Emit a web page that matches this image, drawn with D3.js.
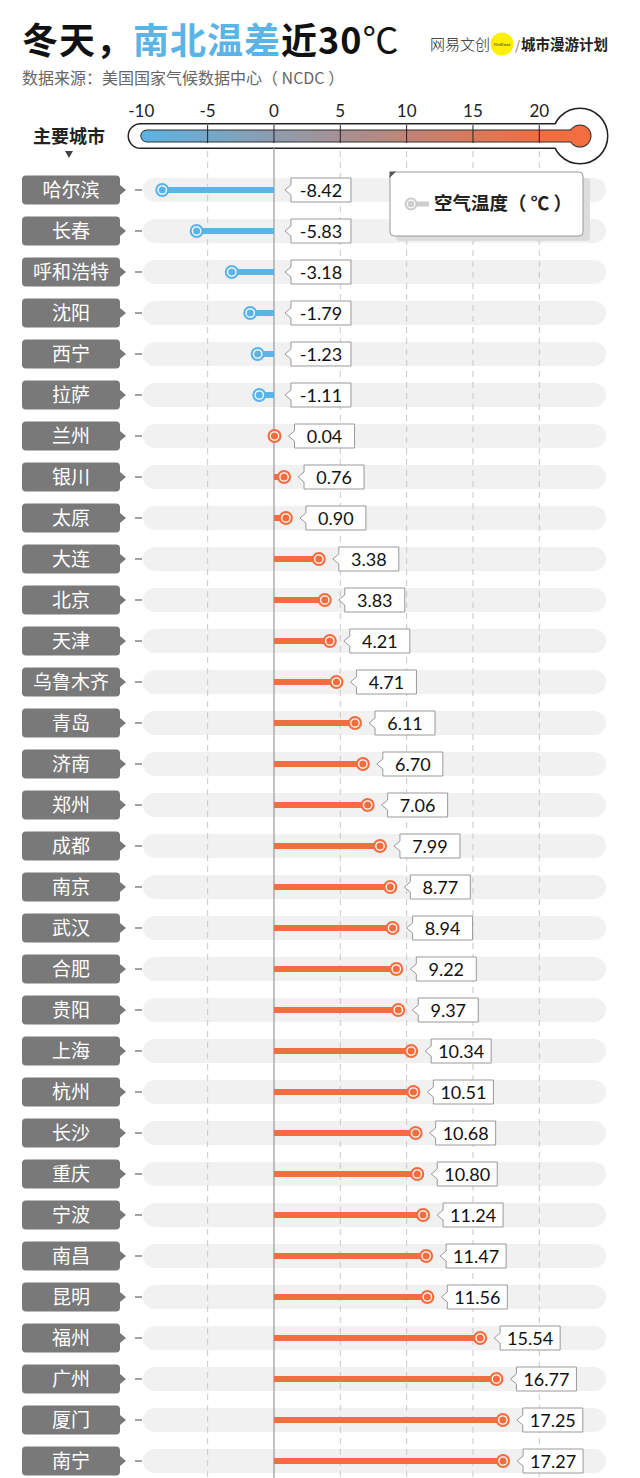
<!DOCTYPE html>
<html><head><meta charset="utf-8">
<script src="https://cdn.jsdelivr.net/npm/d3@7"></script>
<style>
html,body{margin:0;padding:0;background:#fff;}
svg{display:block;font-family:"Noto Sans CJK SC","Noto Sans",sans-serif;}
</style></head>
<body>
<script>
const cities = ["哈尔滨","长春","呼和浩特","沈阳","西宁","拉萨","兰州","银川","太原","大连","北京","天津","乌鲁木齐","青岛","济南","郑州","成都","南京","武汉","合肥","贵阳","上海","杭州","长沙","重庆","宁波","南昌","昆明","福州","广州","厦门","南宁"];
const temps = [-8.42,-5.83,-3.18,-1.79,-1.23,-1.11,0.04,0.76,0.90,3.38,3.83,4.21,4.71,6.11,6.70,7.06,7.99,8.77,8.94,9.22,9.37,10.34,10.51,10.68,10.80,11.24,11.47,11.56,15.54,16.77,17.25,17.27];
const tickValues = [-10,-5,0,5,10,15,20];
const tickLabels = ["-10","-5","0","5","10","15","20"];
const titleParts = ["冬天，","南北温差","近30","℃"];
const subtitle = "数据来源：美国国家气候数据中心（ NCDC ）";
const legendLabel = "空气温度（ ℃ ）";
const axisTitle = "主要城市";

const W = 640, H = 1478;
const BLUE = "#5ab4e6", ORANGE = "#f26d40";
const svg = d3.select("body").append("svg").attr("width", W).attr("height", H);

const x = d3.scaleLinear().domain([-10, 20]).range([141.3, 539.3]);
const y = d3.scaleBand().domain(cities).range([169.5, 169.5 + cities.length * 41]);
const cy = c => y(c) + y.bandwidth() / 2;
const data = cities.map((c, i) => ({city: c, v: temps[i]}));

// ---- Title ----
const t = svg.append("text").attr("x", 22).attr("y", 54)
  .attr("font-size", 36).attr("font-weight", 700).attr("letter-spacing", 1);
t.append("tspan").attr("fill", "#111").text(titleParts[0]);
t.append("tspan").attr("fill", BLUE).text(titleParts[1]);
t.append("tspan").attr("fill", "#111").text(titleParts[2]);
t.append("tspan").attr("fill", "#111").attr("font-weight", 400).text(titleParts[3]);
svg.append("text").attr("x", 22).attr("y", 84).attr("font-size", 16).attr("fill", "#666").text(subtitle);

// logo
svg.append("circle").attr("cx", 502).attr("cy", 44).attr("r", 11.5).attr("fill", "#fff000");
svg.append("text").attr("x", 430).attr("y", 50).attr("font-size", 15).attr("font-weight", 300).attr("fill", "#222").text("网易文创");
svg.append("text").attr("x", 502).attr("y", 45.5).attr("text-anchor", "middle").attr("font-size", 4).attr("font-family", "DejaVu Serif").attr("fill", "#333").text("NetEase");
svg.append("text").attr("x", 515).attr("y", 50).attr("font-size", 13).attr("fill", "#777").text("/");
svg.append("text").attr("x", 521).attr("y", 50).attr("font-size", 14.5).attr("font-weight", 700).attr("fill", "#222").text("城市漫游计划");

// ---- Thermometer ----
const TY = 136, bulbX = 580;
const defs = svg.append("defs");
const grad = defs.append("linearGradient").attr("id", "tg").attr("gradientUnits", "userSpaceOnUse")
  .attr("x1", x(-10)).attr("x2", x(20)).attr("y1", 0).attr("y2", 0);
grad.append("stop").attr("offset", "0%").attr("stop-color", BLUE);
grad.append("stop").attr("offset", "100%").attr("stop-color", ORANGE);

const th = svg.append("g");
th.append("rect").attr("x", 129).attr("y", TY - 11.5).attr("width", bulbX - 129).attr("height", 23).attr("rx", 11.5)
  .attr("fill", "#fff").attr("stroke", "#222").attr("stroke-width", 3);
th.append("circle").attr("cx", bulbX).attr("cy", TY).attr("r", 27).attr("fill", "#fff").attr("stroke", "#222").attr("stroke-width", 3);
th.append("rect").attr("x", 129).attr("y", TY - 11.5).attr("width", bulbX - 129).attr("height", 23).attr("rx", 11.5).attr("fill", "#fff");
th.append("circle").attr("cx", bulbX).attr("cy", TY).attr("r", 27).attr("fill", "#fff");
th.append("rect").attr("x", x(-10)).attr("y", TY - 5.5).attr("width", bulbX - x(-10)).attr("height", 11).attr("rx", 5.5)
  .attr("fill", "none").attr("stroke", "#333").attr("stroke-width", 2);
th.append("circle").attr("cx", bulbX).attr("cy", TY).attr("r", 10.5).attr("fill", "none").attr("stroke", "#333").attr("stroke-width", 2);
th.append("rect").attr("x", x(-10)).attr("y", TY - 5.5).attr("width", x(20) - x(-10) + 5).attr("height", 11).attr("rx", 5.5).attr("fill", "url(#tg)");
th.append("rect").attr("x", x(20)).attr("y", TY - 5.5).attr("width", bulbX - x(20)).attr("height", 11).attr("fill", ORANGE);
th.append("circle").attr("cx", bulbX).attr("cy", TY).attr("r", 10.5).attr("fill", ORANGE);
th.selectAll("line.tk").data(tickValues.filter(d => d > -10)).join("line")
  .attr("x1", d => x(d)).attr("x2", d => x(d)).attr("y1", TY - 11).attr("y2", TY + 7)
  .attr("stroke", "#222").attr("stroke-width", 1);
th.selectAll("text.tl").data(tickValues).join("text")
  .attr("x", d => x(d)).attr("y", 117).attr("text-anchor", "middle")
  .attr("font-size", 17).attr("font-family", "Lato, 'Noto Sans', sans-serif").attr("fill", "#222")
  .text((d, i) => tickLabels[i]);

// axis title
svg.append("text").attr("x", 69).attr("y", 143).attr("text-anchor", "middle").attr("font-size", 18).attr("font-weight", 700).attr("fill", "#222").text(axisTitle);
svg.append("path").attr("d", "M65,151 L73,151 L69,158 Z").attr("fill", "#444");

// ---- Row pills ----
svg.append("g").selectAll("rect").data(data).join("rect")
  .attr("x", 143).attr("y", d => cy(d.city) - 12).attr("width", 463).attr("height", 24).attr("rx", 12)
  .attr("fill", "#f1f1f1");

// ---- grid ----
svg.append("g").selectAll("line").data(tickValues.filter(d => d !== 0 && d > -10)).join("line")
  .attr("x1", d => x(d)).attr("x2", d => x(d)).attr("y1", 151).attr("y2", H)
  .attr("stroke", "#c8c8c8").attr("stroke-width", 1).attr("stroke-dasharray", "6,5");
svg.append("line").attr("x1", x(0)).attr("x2", x(0)).attr("y1", 148).attr("y2", H)
  .attr("stroke", "#999").attr("stroke-width", 1.2);

// ---- bars & dots ----
const col = v => v < 0 ? BLUE : ORANGE;
const bars = svg.append("g");
bars.selectAll("rect").data(data).join("rect")
  .attr("x", d => x(Math.min(0, d.v))).attr("y", d => cy(d.city) - 3)
  .attr("width", d => Math.abs(x(d.v) - x(0))).attr("height", 6).attr("fill", d => col(d.v));
bars.selectAll("circle.o").data(data).join("circle").attr("class", "o")
  .attr("cx", d => x(d.v)).attr("cy", d => cy(d.city)).attr("r", 7).attr("fill", d => col(d.v));
bars.selectAll("circle.i").data(data).join("circle").attr("class", "i")
  .attr("cx", d => x(d.v)).attr("cy", d => cy(d.city)).attr("r", 4.2).attr("fill", d => col(d.v))
  .attr("stroke", "#fff").attr("stroke-width", 1.3);

// ---- value boxes ----
const vb = svg.append("g").selectAll("g").data(data).join("g")
  .attr("transform", d => `translate(${Math.max(x(d.v), x(0)) + (d.v < 0 ? 17 : 20)},${cy(d.city)})`);
vb.append("path").attr("d", "M0,-12 H60 V12 H0 V5 L-6,0 L0,-5 Z")
  .attr("fill", "#fff").attr("stroke", "#999").attr("stroke-width", 1);
vb.append("text").attr("x", 30).attr("y", 6.5).attr("text-anchor", "middle").attr("font-size", 18)
  .attr("font-family", "Lato, 'Noto Sans', sans-serif").attr("fill", "#111").text(d => d.v.toFixed(2));

// ---- city labels ----
const cl = svg.append("g").selectAll("g").data(data).join("g")
  .attr("transform", d => `translate(0,${cy(d.city)})`);
cl.append("path").attr("d", "M26,-14.5 H116 Q120,-14.5 120,-10.5 V-5 L126,0 L120,5 V10.5 Q120,14.5 116,14.5 H26 Q22,14.5 22,10.5 V-10.5 Q22,-14.5 26,-14.5 Z")
  .attr("fill", "#797979");
cl.append("text").attr("x", 71).attr("y", 6.5).attr("text-anchor", "middle").attr("font-size", 19).attr("fill", "#fff").text(d => d.city);
cl.append("line").attr("x1", 135).attr("x2", 142).attr("y1", 0).attr("y2", 0).attr("stroke", "#666").attr("stroke-width", 1.2);

// ---- legend ----
const lg = svg.append("g");
lg.append("rect").attr("x", 396).attr("y", 178).attr("width", 194).attr("height", 63).attr("rx", 4).attr("fill", "#ddd");
lg.append("rect").attr("x", 390).attr("y", 172).attr("width", 193).attr("height", 64).attr("rx", 4)
  .attr("fill", "#fff").attr("stroke", "#999").attr("stroke-width", 1);
lg.append("path").attr("d", "M389.5,171.5 L396,171.5 L389.5,178 Z").attr("fill", "#555");
lg.append("rect").attr("x", 410).attr("y", 201.5).attr("width", 19).attr("height", 5).attr("fill", "#ccc");
lg.append("circle").attr("cx", 411).attr("cy", 204).attr("r", 6.5).attr("fill", "#ccc");
lg.append("circle").attr("cx", 411).attr("cy", 204).attr("r", 3.8).attr("fill", "#ccc").attr("stroke", "#fff").attr("stroke-width", 1.2);
lg.append("text").attr("x", 434).attr("y", 210).attr("font-size", 18.5).attr("font-weight", 700).attr("fill", "#222").text(legendLabel);
</script>
</body></html>
